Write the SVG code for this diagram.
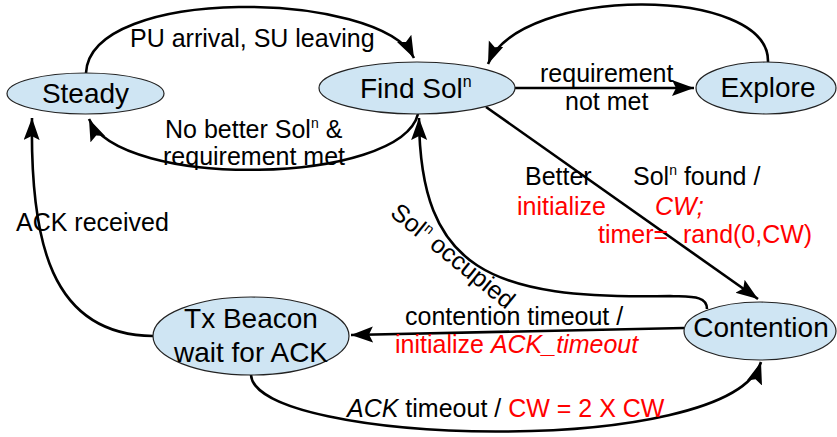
<svg xmlns="http://www.w3.org/2000/svg" width="837" height="437" viewBox="0 0 837 437">
<style>
.node{fill:#cfe5f3;stroke:#222;stroke-width:1.2}
.nt{font-family:"Liberation Sans",Arial,sans-serif;font-size:28px;fill:#000}
.lb{font-family:"Liberation Sans",Arial,sans-serif;font-size:25px;fill:#000}
.red{fill:#ff0000}
.it{font-style:italic}
.edge{fill:none;stroke:#000;stroke-width:2.6}
</style>
<defs>
<marker id="arr" markerUnits="userSpaceOnUse" markerWidth="24" markerHeight="18" refX="22" refY="8" orient="auto">
<path d="M0,0 L22,8 L0,16 L4,8 z" fill="#000"/>
</marker>
</defs>
<rect width="837" height="437" fill="#fff"/>
<g id="connectors">
<path class="edge" d="M86,73 C90,-15 380,-10 414,58" marker-end="url(#arr)"/>
<path class="edge" d="M418,114 C400,185 120,190 89,119" marker-end="url(#arr)"/>
<path class="edge" d="M515,88 L694,88" marker-end="url(#arr)"/>
<path class="edge" d="M768,62 C770,-15 520,-15 488,64" marker-end="url(#arr)"/>
<path class="edge" d="M486,107 L758,299" marker-end="url(#arr)"/>
<path class="edge" d="M707,309 C707,295 690,297 670,296 C490,300 420,270 419,118" marker-end="url(#arr)"/>
<path class="edge" d="M684,328 L351,335" marker-end="url(#arr)"/>
<path class="edge" d="M251,375 C255,445 730,460 761,362" marker-end="url(#arr)"/>
<path class="edge" d="M153,336 C50,335 30,240 32,118" marker-end="url(#arr)"/>
</g>
<g id="steady">
<ellipse class="node" cx="85.5" cy="93.5" rx="78.5" ry="20.5"/>
<text class="nt" x="85.5" y="103" text-anchor="middle">Steady</text>
</g>
<g id="findsol">
<ellipse class="node" cx="417" cy="88" rx="98" ry="26"/>
<text class="nt" x="360" y="98">Find Sol<tspan font-size="16" dy="-11">n</tspan></text>
</g>
<g id="explore">
<ellipse class="node" cx="766" cy="88" rx="70" ry="26"/>
<text class="nt" x="768" y="97" text-anchor="middle">Explore</text>
</g>
<g id="contention">
<ellipse class="node" cx="760" cy="331" rx="76" ry="29"/>
<text class="nt" x="761" y="337" text-anchor="middle">Contention</text>
</g>
<g id="txbeacon">
<ellipse class="node" cx="251" cy="336" rx="98" ry="39"/>
<text class="nt" x="251" y="328" text-anchor="middle">Tx Beacon</text>
<text class="nt" x="251" y="362" text-anchor="middle">wait for ACK</text>
</g>
<g id="labels">
<text class="lb" x="130" y="47">PU arrival, SU leaving</text>
<text class="lb" x="165" y="138">No better Sol<tspan font-size="14" dy="-10">n</tspan><tspan dy="10"> &amp;</tspan></text>
<text class="lb" x="163" y="165">requirement met</text>
<text class="lb" x="540" y="82">requirement</text>
<text class="lb" x="565" y="110">not met</text>
<text class="lb" x="525" y="185">Better</text>
<text class="lb" x="633" y="185">Sol<tspan font-size="14" dy="-10">n</tspan><tspan dy="10"> found /</tspan></text>
<text class="lb red" x="517" y="215">initialize</text>
<text class="lb red it" x="655" y="215">CW;</text>
<text class="lb red" x="598" y="243">timer=<tspan x="683">rand(0,CW)</tspan></text>
<text class="lb" transform="translate(389,215) rotate(39)">Sol<tspan font-size="14" dy="-10">n</tspan><tspan dy="10"> occupied</tspan></text>
<text class="lb" x="16" y="231">ACK received</text>
<text class="lb" x="405" y="325">contention timeout /</text>
<text class="lb red" x="395" y="353">initialize <tspan class="it">ACK_timeout</tspan></text>
<text class="lb" x="347" y="417"><tspan class="it">ACK</tspan> timeout / <tspan class="red">CW = 2 X CW</tspan></text>
</g>
</svg>
